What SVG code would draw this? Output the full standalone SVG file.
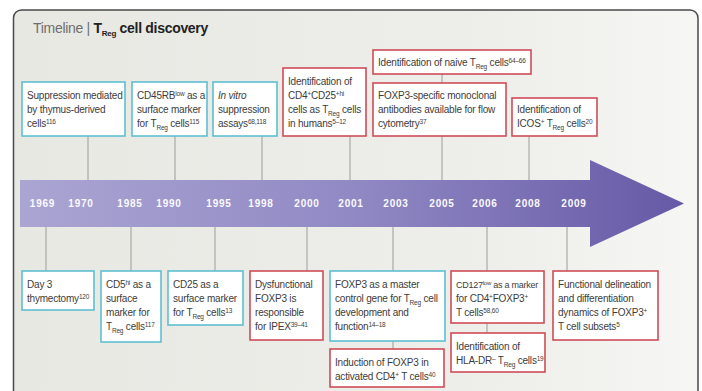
<svg xmlns="http://www.w3.org/2000/svg" width="702" height="391" viewBox="0 0 702 391">
<defs>
<linearGradient id="bg" x1="0" y1="0" x2="1" y2="0">
<stop offset="0" stop-color="#e8e8e3"/>
<stop offset="0.7" stop-color="#eeeeea"/>
<stop offset="1" stop-color="#f6f6f4"/>
</linearGradient>
<linearGradient id="arr" gradientUnits="userSpaceOnUse" x1="20" y1="0" x2="684" y2="0">
<stop offset="0" stop-color="#aba5d3"/>
<stop offset="0.5" stop-color="#9189c4"/>
<stop offset="1" stop-color="#6659a6"/>
</linearGradient>
</defs>
<style>
.bc{fill:#fff;stroke:#5ebfd2;stroke-width:1.6}
.br{fill:#fff;stroke:#cf4d58;stroke-width:1.6}
text{font-family:"Liberation Sans",Arial,sans-serif}
.t{font-size:10px;fill:#3c3c3c;letter-spacing:-0.2px}
.s{font-size:6.5px}
.yr{font-size:10px;font-weight:bold;fill:#fbfaff;letter-spacing:0.8px;text-anchor:middle}
#connectors line{stroke:#9b9b9b;stroke-width:1}
</style>
<rect x="0" y="0" width="702" height="391" fill="#ffffff"/>
<rect x="13.5" y="10" width="684.5" height="400" rx="8" fill="url(#bg)" stroke="#4a4a4a" stroke-width="1.5"/>
<g id="title">
<text x="33" y="33" font-size="14" fill="#6e6e6e" letter-spacing="-0.3">Timeline | <tspan fill="#222" font-weight="bold">T</tspan><tspan fill="#222" font-weight="bold" font-size="8" dy="3">Reg</tspan><tspan fill="#222" font-weight="bold" dy="-3"> cell discovery</tspan></text>
</g>
<g id="connectors">
<line x1="88" y1="136" x2="88" y2="181"/>
<line x1="175" y1="136" x2="175" y2="181"/>
<line x1="262" y1="136" x2="262" y2="181"/>
<line x1="350" y1="136" x2="350" y2="181"/>
<line x1="442" y1="74" x2="442" y2="83"/>
<line x1="442" y1="136" x2="442" y2="181"/>
<line x1="529" y1="136" x2="529" y2="181"/>
<line x1="46" y1="226" x2="46" y2="271"/>
<line x1="131" y1="226" x2="131" y2="271"/>
<line x1="215" y1="226" x2="215" y2="271"/>
<line x1="307" y1="226" x2="307" y2="271"/>
<line x1="393" y1="226" x2="393" y2="271"/>
<line x1="393" y1="341" x2="393" y2="349"/>
<line x1="487" y1="226" x2="487" y2="271"/>
<line x1="487" y1="323" x2="487" y2="333"/>
<line x1="567" y1="226" x2="567" y2="271"/>
</g>
<g id="timeline-arrow">
<path d="M20 180 H590 V160 L684 203.5 L590 247 V227 H20 Z" fill="url(#arr)"/>
<text class="yr" x="42.5" y="207">1969</text>
<text class="yr" x="81" y="207">1970</text>
<text class="yr" x="130" y="207">1985</text>
<text class="yr" x="169" y="207">1990</text>
<text class="yr" x="219" y="207">1995</text>
<text class="yr" x="261" y="207">1998</text>
<text class="yr" x="307" y="207">2000</text>
<text class="yr" x="351" y="207">2001</text>
<text class="yr" x="396" y="207">2003</text>
<text class="yr" x="442" y="207">2005</text>
<text class="yr" x="485" y="207">2006</text>
<text class="yr" x="528" y="207">2008</text>
<text class="yr" x="574" y="207">2009</text>
</g>
<g id="n1">
<rect class="bc" x="22" y="82" width="103" height="54"/>
<text class="t" x="27" y="99">Suppression mediated</text>
<text class="t" x="27" y="113">by thymus-derived</text>
<text class="t" x="27" y="127">cells<tspan class="s" dy="-3.5">116</tspan></text>
</g>
<g id="n2">
<rect class="bc" x="132" y="82" width="75" height="54"/>
<text class="t" x="137" y="99">CD45RB<tspan class="s" dy="-3.5">low</tspan><tspan dy="3.5"> as a</tspan></text>
<text class="t" x="137" y="113">surface marker</text>
<text class="t" x="137" y="127">for T<tspan class="s" dy="2.5">Reg</tspan><tspan dy="-2.5"> cells</tspan><tspan class="s" dy="-3.5">115</tspan></text>
</g>
<g id="n3">
<rect class="bc" x="213" y="82" width="64" height="54"/>
<text class="t" x="218" y="99" font-style="italic">In vitro</text>
<text class="t" x="218" y="113">suppression</text>
<text class="t" x="218" y="127">assays<tspan class="s" dy="-3.5">68,118</tspan></text>
</g>
<g id="n4">
<rect class="br" x="283" y="68" width="83" height="68"/>
<text class="t" x="288" y="85">Identification of</text>
<text class="t" x="288" y="99">CD4<tspan class="s" dy="-3.5">+</tspan><tspan dy="3.5">CD25</tspan><tspan class="s" dy="-3.5">+hi</tspan></text>
<text class="t" x="288" y="113">cells as T<tspan class="s" dy="2.5">Reg</tspan><tspan dy="-2.5"> cells</tspan></text>
<text class="t" x="288" y="127">in humans<tspan class="s" dy="-3.5">5–12</tspan></text>
</g>
<g id="n5">
<rect class="br" x="373" y="50" width="158" height="24"/>
<text class="t" x="378" y="66">Identification of naive T<tspan class="s" dy="2.5">Reg</tspan><tspan dy="-2.5"> cells</tspan><tspan class="s" dy="-3.5">64–66</tspan></text>
</g>
<g id="n6">
<rect class="br" x="373" y="83" width="133" height="53"/>
<text class="t" x="378" y="99">FOXP3-specific monoclonal</text>
<text class="t" x="378" y="113">antibodies available for flow</text>
<text class="t" x="378" y="127">cytometry<tspan class="s" dy="-3.5">37</tspan></text>
</g>
<g id="n7">
<rect class="br" x="512" y="98" width="85" height="38"/>
<text class="t" x="517" y="113">Identification of</text>
<text class="t" x="517" y="127">ICOS<tspan class="s" dy="-3.5">+</tspan><tspan dy="3.5"> T</tspan><tspan class="s" dy="2.5">Reg</tspan><tspan dy="-2.5"> cells</tspan><tspan class="s" dy="-3.5">20</tspan></text>
</g>
<g id="b1">
<rect class="bc" x="22" y="271" width="72" height="39"/>
<text class="t" x="27" y="288">Day 3</text>
<text class="t" x="27" y="302">thymectomy<tspan class="s" dy="-3.5">120</tspan></text>
</g>
<g id="b2">
<rect class="bc" x="101" y="271" width="60" height="71"/>
<text class="t" x="106" y="288">CD5<tspan class="s" dy="-3.5">hi</tspan><tspan dy="3.5"> as a</tspan></text>
<text class="t" x="106" y="302">surface</text>
<text class="t" x="106" y="316">marker for</text>
<text class="t" x="106" y="330">T<tspan class="s" dy="2.5">Reg</tspan><tspan dy="-2.5"> cells</tspan><tspan class="s" dy="-3.5">117</tspan></text>
</g>
<g id="b3">
<rect class="bc" x="168" y="271" width="75" height="54"/>
<text class="t" x="173" y="288">CD25 as a</text>
<text class="t" x="173" y="302">surface marker</text>
<text class="t" x="173" y="316">for T<tspan class="s" dy="2.5">Reg</tspan><tspan dy="-2.5"> cells</tspan><tspan class="s" dy="-3.5">13</tspan></text>
</g>
<g id="b4">
<rect class="br" x="250" y="271" width="73" height="69"/>
<text class="t" x="255" y="288">Dysfunctional</text>
<text class="t" x="255" y="302">FOXP3 is</text>
<text class="t" x="255" y="316">responsible</text>
<text class="t" x="255" y="330">for IPEX<tspan class="s" dy="-3.5">39–41</tspan></text>
</g>
<g id="b5">
<rect class="bc" x="330" y="271" width="115" height="70"/>
<text class="t" x="335" y="288">FOXP3 as a master</text>
<text class="t" x="335" y="302">control gene for T<tspan class="s" dy="2.5">Reg</tspan><tspan dy="-2.5"> cell</tspan></text>
<text class="t" x="335" y="316">development and</text>
<text class="t" x="335" y="330">function<tspan class="s" dy="-3.5">14–18</tspan></text>
</g>
<g id="b6">
<rect class="br" x="330" y="349" width="114" height="38"/>
<text class="t" x="335" y="366">Induction of FOXP3 in</text>
<text class="t" x="335" y="380">activated CD4<tspan class="s" dy="-3.5">+</tspan><tspan dy="3.5"> T cells</tspan><tspan class="s" dy="-3.5">40</tspan></text>
</g>
<g id="b7">
<rect class="br" x="451" y="271" width="93" height="52"/>
<text class="t" x="456" y="288" style="font-size:9px;letter-spacing:-0.25px">CD127<tspan class="s" style="font-size:6px" dy="-3.5">low</tspan><tspan dy="3.5"> as a marker</tspan></text>
<text class="t" x="456" y="302">for CD4<tspan class="s" dy="-3.5">+</tspan><tspan dy="3.5">FOXP3</tspan><tspan class="s" dy="-3.5">+</tspan></text>
<text class="t" x="456" y="316">T cells<tspan class="s" dy="-3.5">58,60</tspan></text>
</g>
<g id="b8">
<rect class="br" x="451" y="333" width="94" height="39"/>
<text class="t" x="456" y="350">Identification of</text>
<text class="t" x="456" y="364">HLA-DR<tspan class="s" dy="-3.5">–</tspan><tspan dy="3.5"> T</tspan><tspan class="s" dy="2.5">Reg</tspan><tspan dy="-2.5"> cells</tspan><tspan class="s" dy="-3.5">19</tspan></text>
</g>
<g id="b9">
<rect class="br" x="553" y="271" width="105" height="69"/>
<text class="t" x="558" y="288">Functional delineation</text>
<text class="t" x="558" y="302">and differentiation</text>
<text class="t" x="558" y="316">dynamics of FOXP3<tspan class="s" dy="-3.5">+</tspan></text>
<text class="t" x="558" y="330">T cell subsets<tspan class="s" dy="-3.5">5</tspan></text>
</g>
</svg>
